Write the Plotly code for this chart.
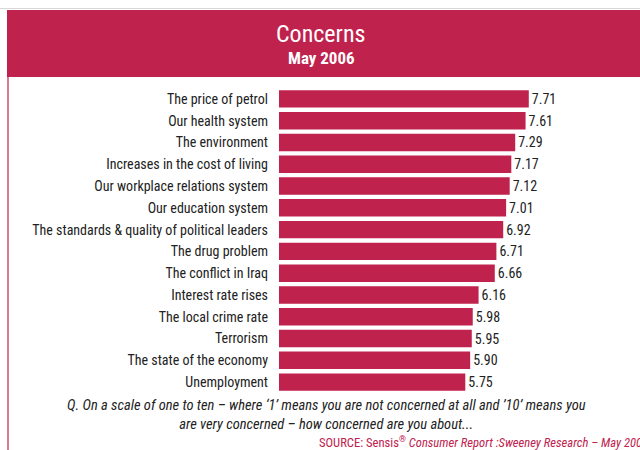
import plotly.graph_objects as go

# Survey concerns, mean score on a 1-10 scale
concerns = [
    "The price of petrol",
    "Our health system",
    "The environment",
    "Increases in the cost of living",
    "Our workplace relations system",
    "Our education system",
    "The standards & quality of political leaders",
    "The drug problem",
    "The conflict in Iraq",
    "Interest rate rises",
    "The local crime rate",
    "Terrorism",
    "The state of the economy",
    "Unemployment",
]
scores = [7.71, 7.61, 7.29, 7.17, 7.12, 7.01, 6.92, 6.71, 6.66, 6.16, 5.98, 5.95, 5.90, 5.75]

CRIMSON = "#C0224E"
FONT = "Liberation Sans Narrow, Roboto Condensed, Open Sans, sans-serif"

W, H = 640, 450
L, R, T, B = 279, 37, 88, 57
PW, PH = W - L - R, H - T - B


def px(x):
    return (x - L) / PW


def py(y):
    return (H - B - y) / PH


fig = go.Figure(
    go.Bar(
        x=scores,
        y=concerns,
        orientation="h",
        marker=dict(color=CRIMSON, line=dict(width=0)),
        text=[f"{v:.2f}" for v in scores],
        textposition="outside",
        textfont=dict(family=FONT, size=14, color="#222222"),
        cliponaxis=False,
        width=0.8,
    )
)

shapes = [
    # header band
    dict(type="rect", xref="paper", yref="paper", x0=px(7), x1=px(645), y0=py(77), y1=py(10),
         fillcolor=CRIMSON, line=dict(width=0), layer="below"),
    # thin rule above the header
    dict(type="line", xref="paper", yref="paper", x0=px(0), x1=px(645), y0=py(8.5), y1=py(8.5),
         line=dict(color="#d8d8d8", width=1)),
    # left frame line
    dict(type="line", xref="paper", yref="paper", x0=px(8), x1=px(8), y0=py(77), y1=py(455),
         line=dict(color=CRIMSON, width=1.2)),
]

annotations = [
    dict(text="Concerns", x=px(321), y=py(34), xref="paper", yref="paper", showarrow=False,
         font=dict(family=FONT, size=24, color="white"), xanchor="center", yanchor="middle"),
    dict(text="<b>May 2006</b>", x=px(321), y=py(58), xref="paper", yref="paper", showarrow=False,
         font=dict(family=FONT, size=17, color="white"), xanchor="center", yanchor="middle"),
    dict(text="<i>Q. On a scale of one to ten – where ‘1’ means you are not concerned at all and ’10’ means you<br>are very concerned – how concerned are you about...</i>",
         x=px(326), y=py(414.5), xref="paper", yref="paper", showarrow=False, align="center",
         font=dict(family=FONT, size=14.5, color="#222222"), xanchor="center", yanchor="middle"),
    dict(text="SOURCE: Sensis<sup>®</sup> <i>Consumer Report :Sweeney Research – May 2006</i>",
         x=px(317), y=py(441.5), xref="paper", yref="paper", showarrow=False, align="left",
         font=dict(family=FONT, size=12.6, color=CRIMSON), xanchor="left", yanchor="middle"),
]

fig.update_layout(
    width=W,
    height=H,
    margin=dict(l=L, r=R, t=T, b=B, pad=0),
    paper_bgcolor="white",
    plot_bgcolor="white",
    showlegend=False,
    shapes=shapes,
    annotations=annotations,
    xaxis=dict(range=[0, 10], visible=False, fixedrange=True),
    yaxis=dict(autorange=False, range=[13.5, -0.5], showgrid=False, zeroline=False, showline=False,
               ticks="", ticklabelstandoff=10,
               tickfont=dict(family=FONT, size=14, color="#222222"), fixedrange=True),
    font=dict(family=FONT),
)

fig.write_html("out.html", config={"displayModeBar": False})
